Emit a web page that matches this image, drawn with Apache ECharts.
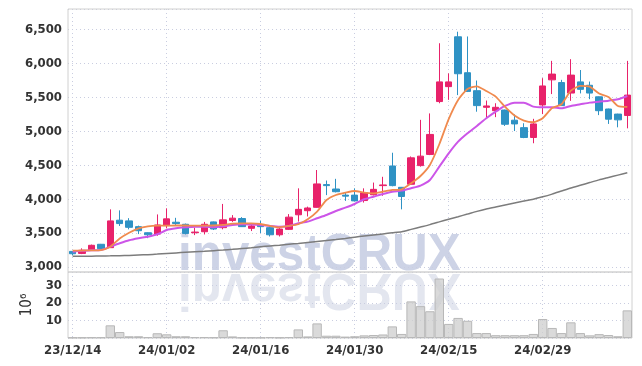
<!DOCTYPE html>
<html>
<head>
<meta charset="utf-8">
<script src="https://cdn.jsdelivr.net/npm/echarts@6/dist/echarts.min.js"></script>
<style>
  html, body { margin: 0; padding: 0; background: #fff; }
  #chart { width: 642px; height: 366px; }
</style>
</head>
<body>
<div id="chart"></div>
<script>
// trading days
var dates = [
  '23/12/14','23/12/15','23/12/18','23/12/19','23/12/20','23/12/21','23/12/22','23/12/26','23/12/27','23/12/28',
  '24/01/02','24/01/03','24/01/04','24/01/05','24/01/08','24/01/09','24/01/10','24/01/11','24/01/12','24/01/15',
  '24/01/16','24/01/17','24/01/18','24/01/19','24/01/22','24/01/23','24/01/24','24/01/25','24/01/26','24/01/29',
  '24/01/30','24/01/31','24/02/01','24/02/02','24/02/05','24/02/06','24/02/07','24/02/08','24/02/13','24/02/14',
  '24/02/15','24/02/16','24/02/19','24/02/20','24/02/21','24/02/22','24/02/23','24/02/26','24/02/27','24/02/28',
  '24/02/29','24/03/04','24/03/05','24/03/06','24/03/07','24/03/08','24/03/11','24/03/12','24/03/13','24/03/14'
];

var openVals = [
  3230,3200,3250,3335,3285,3690,3680,3595,3505,3485,
  3610,3660,3630,3505,3520,3665,3580,3685,3715,3570,
  3620,3580,3475,3555,3770,3830,3880,4215,4150,4060,
  4060,3980,4065,4200,4490,4175,4220,4495,4660,5440,
  5660,6395,5865,5600,5355,5305,5315,5165,5055,4910,
  5390,5760,5720,5565,5730,5680,5510,5330,5255,5235
];
var closeVals = [
  3195,3245,3320,3270,3680,3640,3585,3535,3475,3620,
  3710,3640,3495,3515,3630,3560,3695,3720,3595,3605,
  3595,3475,3560,3735,3850,3870,4225,4200,4110,4045,
  3975,4095,4145,4210,4200,4040,4610,4635,4955,5730,
  5730,5850,5590,5380,5375,5355,5105,5110,4910,5110,
  5670,5845,5380,5830,5620,5565,5305,5180,5170,5535
];
var lowVals = [
  3170,3190,3245,3260,3280,3605,3555,3485,3425,3460,
  3570,3620,3480,3470,3480,3545,3555,3665,3590,3530,
  3500,3450,3450,3545,3670,3745,3875,4060,4100,3975,
  3970,3950,4055,4050,4190,3850,4210,4480,4650,5415,
  5465,5535,5580,5290,5195,5210,5080,5005,4900,4825,
  5255,5550,5375,5450,5560,5475,5240,5110,5060,5045
];
var highVals = [
  3235,3275,3330,3340,3850,3835,3720,3610,3510,3775,
  3865,3725,3640,3580,3665,3670,3930,3765,3735,3645,
  3685,3595,3595,3780,4160,3890,4430,4275,4300,4095,
  4160,4160,4245,4330,4685,4180,4630,5170,5265,6300,
  5855,6470,6400,5750,5455,5415,5320,5250,5120,5185,
  5785,6040,5760,6065,5905,5735,5515,5335,5260,6040
];

// moving averages
var maShort = [
  3240,3243,3245,3250,3300,3420,3505,3570,3600,3610,
  3610,3612,3612,3610,3610,3612,3620,3639,3644,3644,
  3634,3605,3585,3605,3630,3703,3816,3988,4062,4095,
  4121,4096,4087,4111,4136,4146,4234,4342,4505,4810,
  5180,5463,5625,5665,5595,5512,5360,5235,5160,5135,
  5195,5345,5400,5600,5670,5660,5558,5508,5375,5360
];
var maMid = [
  3226,3240,3245,3250,3300,3349,3393,3423,3447,3482,
  3546,3571,3585,3595,3595,3587,3600,3620,3630,3628,
  3620,3605,3595,3605,3644,3669,3718,3767,3826,3875,
  3929,3999,4037,4077,4111,4126,4161,4200,4283,4480,
  4677,4849,4972,5080,5193,5291,5375,5424,5424,5365,
  5355,5355,5340,5375,5399,5424,5438,5453,5473,5522
];
var maLong = [
  3158,3159,3160,3162,3164,3167,3171,3176,3182,3190,
  3200,3208,3216,3224,3232,3241,3250,3260,3272,3284,
  3298,3310,3322,3335,3348,3362,3376,3390,3404,3420,
  3440,3456,3472,3488,3504,3520,3555,3590,3625,3665,
  3705,3742,3780,3820,3855,3885,3915,3945,3972,4000,
  4035,4075,4120,4165,4205,4245,4285,4320,4355,4390
];

// volume in millions
var volumes = [
  0.3,0.3,0.4,0.4,7.2,3.4,1.0,1.0,0.5,2.7,
  2.1,1.0,1.0,0.5,0.5,0.4,4.4,0.9,0.3,0.3,
  0.3,0.5,0.3,0.5,4.9,0.9,8.3,1.3,1.3,0.8,
  1.0,1.5,1.7,2.0,6.6,2.3,20.8,18.1,15.2,33.8,
  8.0,11.4,9.8,2.8,2.8,1.6,1.6,1.6,1.6,2.3,
  10.8,5.7,2.8,8.9,2.8,1.5,2.2,1.7,1.0,15.7
];

var candles = dates.map(function (d, i) {
  return [openVals[i], closeVals[i], lowVals[i], highVals[i]];
});

var upColor = '#e8226a';
var downColor = '#2f92c4';
var gridLine = '#c9cde0';
var labelFont = '"DejaVu Sans Condensed", "Liberation Sans Narrow", sans-serif';

var myChart = echarts.init(document.getElementById('chart'));

var option = {
  animation: false,
  graphic: [
    {
      type: 'text', x: 178, y: 272, z: 0, scaleX: 0.95,
      style: { text: 'investCRUX', x: 0, y: 10, font: 'bold 52px "Liberation Sans"', fill: '#cdd3e6', verticalAlign: 'bottom' }
    },
    {
      type: 'text', x: 178, y: 272, z: 0, scaleX: 0.95, scaleY: -1,
      style: { text: 'investCRUX', x: 0, y: 10, font: 'bold 52px "Liberation Sans"', fill: '#e3e6ef', verticalAlign: 'bottom' }
    }
  ],
  grid: [
    { left: 68, right: 10, top: 9, height: 263, show: true, borderColor: '#d0d0d0', borderWidth: 1, z: 1 },
    { left: 68, right: 10, top: 272, height: 66, show: true, borderColor: '#d0d0d0', borderWidth: 1, z: 1 }
  ],
  xAxis: [
    {
      type: 'category', gridIndex: 0, data: dates, boundaryGap: true,
      axisLine: { show: false }, axisTick: { show: false }, axisLabel: { show: false },
      splitLine: { show: true, interval: 9, alignWithLabel: true, lineStyle: { color: gridLine, type: [1, 3] } }
    },
    {
      type: 'category', gridIndex: 1, data: dates, boundaryGap: true,
      axisLine: { show: false }, axisTick: { show: false },
      axisLabel: { interval: 9, color: '#333', fontFamily: labelFont, fontWeight: 'bold', fontSize: 13, margin: 6 },
      splitLine: { show: true, interval: 9, alignWithLabel: true, lineStyle: { color: gridLine, type: [1, 3] } }
    }
  ],
  yAxis: [
    {
      type: 'value', gridIndex: 0, min: 2926, max: 6805, splitNumber: 8,
      axisLine: { show: false }, axisTick: { show: false },
      axisLabel: {
        color: '#333', fontFamily: labelFont, fontWeight: 'bold', fontSize: 13, margin: 6,
        showMinLabel: false, showMaxLabel: false,
        formatter: function (v) { return v.toLocaleString('en-US'); }
      },
      splitLine: { lineStyle: { color: gridLine, type: [1, 3] } }
    },
    {
      type: 'value', gridIndex: 1, min: 0, max: 37.5, interval: 10,
      name: '10\u2076', nameLocation: 'middle', nameRotate: 90, nameGap: 23,
      nameTextStyle: { color: '#333', fontFamily: labelFont, fontSize: 15 },
      axisLine: { show: false }, axisTick: { show: false },
      axisLabel: {
        color: '#333', fontFamily: labelFont, fontWeight: 'bold', fontSize: 13, margin: 6,
        showMinLabel: false, showMaxLabel: false
      },
      splitLine: { lineStyle: { color: gridLine, type: [1, 3] } }
    }
  ],
  series: [
    {
      name: 'price', type: 'candlestick', xAxisIndex: 0, yAxisIndex: 0, data: candles,
      barWidth: 7, z: 3,
      itemStyle: { color: upColor, color0: downColor, borderColor: upColor, borderColor0: downColor, borderWidth: 1 }
    },
    {
      name: 'maLong', type: 'line', xAxisIndex: 0, yAxisIndex: 0, data: maLong,
      showSymbol: false, smooth: 0.2, z: 4, lineStyle: { color: '#7c7c7c', width: 1.5 }
    },
    {
      name: 'maMid', type: 'line', xAxisIndex: 0, yAxisIndex: 0, data: maMid,
      showSymbol: false, smooth: 0.2, z: 4, lineStyle: { color: '#cc55e8', width: 2 }
    },
    {
      name: 'maShort', type: 'line', xAxisIndex: 0, yAxisIndex: 0, data: maShort,
      showSymbol: false, smooth: 0.2, z: 4, lineStyle: { color: '#f08a4e', width: 1.8 }
    },
    {
      name: 'volume', type: 'bar', xAxisIndex: 1, yAxisIndex: 1, data: volumes,
      barCategoryGap: '0%', z: 3,
      itemStyle: { color: 'rgba(205,205,205,0.75)', borderColor: '#b8b8b8', borderWidth: 1 }
    }
  ]
};

myChart.setOption(option);
</script>
</body>
</html>
